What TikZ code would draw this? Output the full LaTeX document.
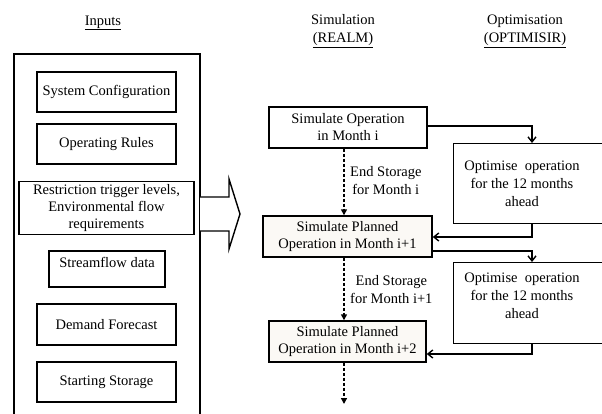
\documentclass[tikz,border=0pt]{standalone}
\usepackage{fontspec}
\setmainfont{Liberation Serif}
\usetikzlibrary{arrows.meta,calc}
\definecolor{boxfill}{HTML}{FBF9F5}
\tikzset{
  inbox/.style={draw, line width=1.4pt, inner sep=0pt, align=center, font=\fontsize{14.5}{17}\selectfont},
  simbox/.style={inbox, fill=boxfill},
  txt/.style={inner sep=0pt, align=center, font=\fontsize{14.5}{18}\selectfont},
  solidarrow/.style={line width=1.4pt, -{Straight Barb[length=5pt,width=8pt,line width=1.4pt]}},
  dasharrow/.style={line width=1.4pt, dashed, dash pattern=on 3pt off 2pt, -{Triangle[length=6pt,width=6pt]}},
}
\begin{document}
\begin{tikzpicture}[x=1pt,y=-1pt]
\useasboundingbox (0,0) rectangle (602,414);
\clip (0,0) rectangle (602,414);
% headings
\node[txt] (hin) at (103,23) {\underline{Inputs}};
\node[txt] (hsim) at (343,31) {Simulation\\\underline{(REALM)}};
\node[txt] (hopt) at (525,31) {Optimisation\\\underline{(OPTIMISIR)}};
% outer input box
\draw[line width=1.4pt] (14,420) -- (14,54) -- (200,54) -- (200,420);
\coordinate (outerR) at (200,214);
% inputs
\node[inbox, minimum width=139pt, minimum height=40pt] (sys) at (106.5,92) {System Configuration};
\node[inbox, minimum width=139pt, minimum height=40pt] (ops) at (106.5,144) {Operating Rules};
\node[inbox, minimum width=175pt, minimum height=52.5pt] (restr) at (106.5,208) {Restriction trigger levels,\\Environmental flow\\requirements};
\node[inbox, minimum width=116pt, minimum height=36pt] (stream) at (107,269) {};
\node[txt] (streamt) at ($(stream.north)+(0,12)$) {Streamflow data};
\node[inbox, minimum width=139pt, minimum height=41pt] (demand) at (106.5,324.5) {Demand Forecast};
\node[inbox, minimum width=139pt, minimum height=40pt] (start) at (106.5,382) {Starting Storage};
% big arrow
\draw[line width=1.4pt, fill=white] (outerR) ++(0,-17) -- (229,197) -- (229,179) -- (240,214) -- (229,249) -- (229,231) -- (200,231);
% simulation boxes
\node[inbox, minimum width=158pt, minimum height=41pt] (sim1) at (348,127.5) {Simulate Operation\\in Month i};
\node[simbox, minimum width=169pt, minimum height=41pt] (sim2) at (347.5,236.5) {Simulate Planned\\Operation in Month i+1};
\node[simbox, minimum width=157pt, minimum height=41pt] (sim3) at (347.5,341.5) {Simulate Planned\\Operation in Month i+2};
% optimisation boxes
\node[inbox, minimum width=160pt, minimum height=80pt, anchor=north west] (opt1) at (453,143) {};
\node[txt] (opt1t) at (522,184) {Optimise\ \ operation\\for the 12 months\\ahead};
\node[inbox, minimum width=160pt, minimum height=81pt, anchor=north west] (opt2) at (453,262) {};
\node[txt] (opt2t) at (522,296) {Optimise\ \ operation\\for the 12 months\\ahead};
% dashed connectors
\draw[dasharrow] (sim1.south -| 344,0) -- (sim2.north -| 344,0);
\node[txt, anchor=west] (es1) at (350,181) {End Storage\\for Month i};
\draw[dasharrow] (sim2.south -| 344,0) -- (sim3.north -| 344,0);
\node[txt, anchor=west] (es2) at (350,289.5) {End Storage\\for Month i+1};
\coordinate (endc) at (344,404);
\draw[dasharrow] (sim3.south -| 344,0) -- (endc);
% solid connectors
\draw[solidarrow] (sim1.east |- 0,126) -- (532,126) -- (opt1.north -| 532,0);
\draw[solidarrow] (opt1.south -| 532,0) -- (532,237) -- (sim2.east |- 0,237);
\draw[solidarrow] (sim2.east |- 0,251) -- (532,251) -- (opt2.north -| 532,0);
\draw[solidarrow] (opt2.south -| 532,0) -- (532,354) -- (sim3.east |- 0,354);
\end{tikzpicture}
\end{document}
